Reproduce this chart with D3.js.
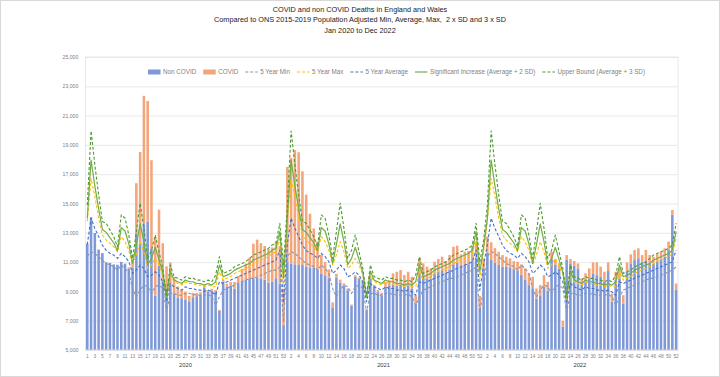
<!DOCTYPE html>
<html lang="en">
<head>
<meta charset="utf-8">
<title>COVID and non COVID Deaths in England and Wales</title>
<script src="https://d3js.org/d3.v7.min.js"></script>
<style>
  body { margin: 0; background: #fff; }
  text { font-family: "Liberation Sans", Arial, sans-serif; }
</style>
</head>
<body>
<svg width="720" height="377"></svg>
<script>
  // Categories
  const years = ["2020", "2021", "2022"];
  const weeksPerYear = [53, 52, 52];
  const yTicks = [5000, 7000, 9000, 11000, 13000, 15000, 17000, 19000, 21000, 23000, 25000];

  // Weekly registered deaths (bars)
  const nonCovid2020 = [12254,14058,12990,11856,11612,10986,10944,10841,10816,11019,10895,10542,10602,12912,12303,13593,13760,11918,8727,10763,9699,8887,9387,8862,8556,8534,8447,8324,8596,8674,8753,9240,8962,9041,8999,7661,9672,9308,9388,9196,9500,9700,9800,9850,9900,9950,9900,9800,9600,9650,9900,9500,6700];
  const covid2020 = [0,0,0,0,0,0,0,0,0,0,0,103,539,3475,6213,8758,8237,6035,3930,3810,2589,1822,1588,1114,783,606,532,366,295,217,193,152,138,139,101,78,139,215,246,452,548,834,1100,1450,2354,2585,2392,2300,2300,2350,2500,2600,2500];
  const nonCovid2021 = [11000,10900,10850,10800,10800,10700,10600,10600,10500,10200,10100,9900,7900,9950,9600,9400,9080,8000,9990,9850,9700,7710,9890,9330,8950,8700,9310,9370,9430,9390,9460,9310,9490,9200,8170,10250,10010,9890,9870,10230,10360,10470,10270,10480,10850,10970,10680,10810,10860,11120,11300,7900];
  const covid2021 = [6500,7200,7800,7700,6400,4900,3700,2700,1900,1300,900,600,350,250,200,150,120,100,110,100,100,90,110,120,150,200,340,400,800,950,1000,800,850,800,570,1000,900,800,700,800,850,900,800,1000,1200,1150,850,900,900,1000,1100,800];
  const nonCovid2022 = [10550,11650,11150,10950,10800,10680,10670,10650,10520,10430,10150,9820,9430,9200,8500,8730,9310,9060,11200,10810,10560,6600,11180,10910,10770,10560,9430,9660,9890,10230,10110,10000,9660,10390,8290,9770,9890,8170,10340,10910,11140,11260,11030,11070,10910,10910,11030,11140,11370,11830,14230,9090];
  const covid2022 = [700,1100,1200,1000,900,800,700,600,550,600,700,750,800,800,700,700,800,600,500,400,350,400,300,300,300,350,460,570,680,750,870,690,680,590,570,570,680,570,640,620,690,680,450,760,570,460,500,570,570,570,330,450];

  // ONS 2015-2019 population adjusted reference lines
  const min2020 = [11400,11700,11600,11350,11140,10900,10800,10700,10450,10800,10570,10230,9200,8630,9090,9430,9320,8860,9320,9430,9200,7600,8860,8860,8740,8740,8860,8860,8800,8750,8740,8740,8800,8630,8060,8630,9090,9200,9320,9430,9540,9660,9770,9890,9890,10000,10110,10230,10340,10450,10450,10680,6900];
  const min2021 = [11400,11700,11600,11350,11140,10900,10800,10700,10450,10800,10570,10230,9200,8630,9090,9430,9320,8860,9320,9430,9200,7600,8860,8860,8740,8740,8860,8860,8800,8750,8740,8740,8800,8630,8060,8630,9090,9200,9320,9430,9540,9660,9770,9890,9890,10000,10110,10230,10340,10450,10680,7600];
  const min2022 = [9200,11400,11700,11600,11350,11140,10900,10800,10700,10450,10800,10570,10230,9200,8630,9090,9430,9320,8860,9320,9430,9200,7600,8860,8860,8740,8740,8860,8860,8800,8750,8740,8740,8800,8630,8060,8630,9090,9200,9320,9430,9540,9660,9770,9890,9890,10000,10110,10230,10340,10450,10680];

  const max2020 = [13800,16700,15500,14000,12850,12500,12280,12050,11700,12740,12400,11800,10800,11500,12400,11700,10570,10800,11250,10800,10110,8520,10110,9660,9540,9430,9650,9540,9540,9430,9430,9320,9430,9320,9320,10340,9770,9890,10000,10230,10340,10450,10570,10680,10900,11030,11140,11250,11370,11590,11700,12620,9300];
  const max2021 = [13800,16700,15500,14000,12850,12500,12280,12050,11700,12740,12400,11800,10800,11500,12400,11700,10570,10800,11250,10800,10110,8520,10110,9660,9540,9430,9650,9540,9540,9430,9430,9320,9430,9320,9320,10340,9770,9890,10000,10230,10340,10450,10570,10680,10900,11030,11140,11250,11370,11590,12620,9890];
  const max2022 = [11700,13800,16700,15500,14000,12850,12500,12280,12050,11700,12740,12400,11800,10800,11500,12400,11700,10570,10800,11250,10800,10110,8520,10110,9660,9540,9430,9650,9540,9540,9430,9430,9320,9430,9320,9320,10340,9770,9890,10000,10230,10340,10450,10570,10680,10900,11030,11140,11250,11370,11590,12620];

  const avg2020 = [12200,14000,13300,12750,12150,11800,11600,11480,11250,11600,11370,11030,10230,10450,10800,10570,10000,10110,10340,10110,9660,8290,9540,9320,9200,9090,9320,9200,9200,9090,9090,9000,9090,8970,8740,9660,9540,9660,9770,9890,10000,10110,10230,10340,10450,10570,10680,10800,10900,11030,11140,11820,8200];
  const avg2021 = [12200,14000,13300,12750,12150,11800,11600,11480,11250,11600,11370,11030,10230,10450,10800,10570,10000,10110,10340,10110,9660,8290,9540,9320,9200,9090,9320,9200,9200,9090,9090,9000,9090,8970,8740,9660,9540,9660,9770,9890,10000,10110,10230,10340,10450,10570,10680,10800,10900,11030,11820,9090];
  const avg2022 = [10800,12200,14000,13300,12750,12150,11800,11600,11480,11250,11600,11370,11030,10230,10450,10800,10570,10000,10110,10340,10110,9660,8290,9540,9320,9200,9090,9320,9200,9200,9090,9090,9000,9090,8970,8740,9660,9540,9660,9770,9890,10000,10110,10230,10340,10450,10570,10680,10800,10900,11030,11820];

  const sd2_2020 = [14000,17970,16200,14650,13230,13030,12670,12320,11780,13350,13120,12240,10910,12200,13610,12390,10830,11240,12010,11170,10270,8590,10380,9770,9660,9540,9780,9660,9660,9540,9540,9430,9540,9430,9660,10800,10000,10110,10230,10450,10570,10680,10800,10900,11140,11250,11370,11480,11590,11820,11940,13080,9900];
  const sd2_2021 = [14000,17970,16200,14650,13230,13030,12670,12320,11780,13350,13120,12240,10910,12200,13610,12390,10830,11240,12010,11170,10270,8590,10380,9770,9660,9540,9780,9660,9660,9540,9540,9430,9540,9430,9660,10800,10000,10110,10230,10450,10570,10680,10800,10900,11140,11250,11370,11480,11590,11820,13080,10340];
  const sd2_2022 = [12000,14000,17970,16200,14650,13230,13030,12670,12320,11780,13350,13120,12240,10910,12200,13610,12390,10830,11240,12010,11170,10270,8590,10380,9770,9660,9540,9780,9660,9660,9540,9540,9430,9540,9430,9660,10800,10000,10110,10230,10450,10570,10680,10800,10900,11140,11250,11370,11480,11590,11820,13080];

  const sd3_2020 = [14900,19950,17650,15600,13770,13650,13200,12740,12050,14220,14000,12850,11250,13080,15020,13300,11250,11800,12850,11700,10570,8740,10800,10000,9890,9770,10000,9890,9890,9770,9770,9660,9770,9660,10110,11370,10230,10340,10450,10680,10800,10900,11030,11250,11480,11590,11700,11820,11940,12170,12300,13650,10800];
  const sd3_2021 = [14900,19950,17650,15600,13770,13650,13200,12740,12050,14220,14000,12850,11250,13080,15020,13300,11250,11800,12850,11700,10570,8740,10800,10000,9890,9770,10000,9890,9890,9770,9770,9660,9770,9660,10110,11370,10230,10340,10450,10680,10800,10900,11030,11250,11480,11590,11700,11820,11940,12170,13650,11000];
  const sd3_2022 = [12500,14900,19950,17650,15600,13770,13650,13200,12740,12050,14220,14000,12850,11250,13080,15020,13300,11250,11800,12850,11700,10570,8740,10800,10000,9890,9770,10000,9890,9890,9770,9770,9660,9770,9660,10110,11370,10230,10340,10450,10680,10800,10900,11030,11250,11480,11590,11700,11820,11940,12170,13650];

  // Join the three years
  const cats = years.flatMap((yr, k) => d3.range(1, weeksPerYear[k] + 1).map(w => ({ year: yr, week: w })));
  const nonCovid = [...nonCovid2020, ...nonCovid2021, ...nonCovid2022];
  const covid = [...covid2020, ...covid2021, ...covid2022];
  const table = cats.map((c, i) => ({ i, year: c.year, week: c.week, nonCovid: nonCovid[i], covid: covid[i] }));

  const lineSeries = [
    { name: "5 Year Min", values: [...min2020, ...min2021, ...min2022], color: "#8497b0", dash: "3,2", width: 1.1 },
    { name: "5 Year Max", values: [...max2020, ...max2021, ...max2022], color: "#ffc000", dash: "3,2", width: 1.1 },
    { name: "5 Year Average", values: [...avg2020, ...avg2021, ...avg2022], color: "#4472c4", dash: "3,2", width: 1.1 },
    { name: "Significant Increase (Average + 2 SD)", values: [...sd2_2020, ...sd2_2021, ...sd2_2022], color: "#70ad47", dash: null, width: 1.2 },
    { name: "Upper Bound (Average + 3 SD)", values: [...sd3_2020, ...sd3_2021, ...sd3_2022], color: "#4e9a2c", dash: "3,2", width: 1.1 }
  ];

  const svg = d3.select("svg");
  const width = +svg.attr("width");
  const height = +svg.attr("height");
  const margin = { left: 85.4, right: 42, top: 57, bottom: 27 };
  const plotW = width - margin.left - margin.right;

  // Chart frame
  svg.append("rect").attr("x", 0.5).attr("y", 0.5).attr("width", width - 1).attr("height", height - 1)
    .attr("fill", "#fff").attr("stroke", "#d9d9d9");

  // Titles
  const titles = [
    "COVID and non COVID Deaths in England and Wales",
    "Compared to ONS 2015-2019 Population Adjusted Min, Average, Max,  2 x SD and 3 x SD",
    "Jan 2020 to Dec 2022"
  ];
  svg.append("g").selectAll("text").data(titles).join("text")
    .attr("x", 360).attr("y", (d, i) => 11.5 + i * 10.8)
    .attr("text-anchor", "middle").attr("font-size", 7.3).attr("fill", "#1a1a1a")
    .style("white-space", "pre")
    .text(d => d);

  // Scales
  const x = d3.scaleBand().domain(d3.range(cats.length))
    .range([margin.left, margin.left + plotW]).paddingInner(0.32).paddingOuter(0.16);
  const y = d3.scaleLinear().domain([5000, 25000]).range([height - margin.bottom, margin.top]).clamp(true);
  const cx = i => x(i) + x.bandwidth() / 2;

  // Gridlines + y axis
  const yAxis = svg.append("g").attr("transform", `translate(${margin.left},0)`)
    .call(d3.axisLeft(y).tickValues(yTicks).tickFormat(d3.format(",")).tickSize(-plotW).tickPadding(7));
  yAxis.select(".domain").remove();
  yAxis.selectAll("line").attr("stroke", "#e3e3e3").attr("stroke-width", 0.8);
  yAxis.selectAll("text").attr("font-size", 5.2).attr("fill", "#7f7f7f").attr("font-family", "Liberation Sans, Arial, sans-serif");

  // Plot border
  svg.append("rect").attr("x", margin.left).attr("y", margin.top)
    .attr("width", plotW).attr("height", y(5000) - margin.top)
    .attr("fill", "none").attr("stroke", "#e3e3e3").attr("stroke-width", 0.8);

  // Stacked bars
  const stacked = d3.stack().keys(["nonCovid", "covid"])(table);
  const barColors = { nonCovid: "#7f99d8", covid: "#f3a57c" };
  svg.append("g").selectAll("g").data(stacked).join("g")
    .attr("fill", d => barColors[d.key])
    .selectAll("rect").data(d => d).join("rect")
    .attr("x", (d, i) => x(i))
    .attr("width", x.bandwidth())
    .attr("y", d => y(d[1]))
    .attr("height", d => Math.max(0, y(d[0]) - y(d[1])));

  // Reference lines
  const line = d3.line().x((d, i) => cx(i)).y(d => y(d));
  svg.append("g").selectAll("path").data(lineSeries).join("path")
    .attr("d", d => line(d.values))
    .attr("fill", "none")
    .attr("stroke", d => d.color)
    .attr("stroke-width", d => d.width)
    .attr("stroke-dasharray", d => d.dash)
    .attr("stroke-linejoin", "round");

  // X axis: weeks, every other label
  const baseY = y(5000);
  svg.append("line").attr("x1", margin.left).attr("x2", margin.left + plotW)
    .attr("y1", baseY).attr("y2", baseY).attr("stroke", "#d9d9d9");
  svg.append("g").selectAll("text").data(table.filter(d => d.i % 2 === 0)).join("text")
    .attr("x", d => cx(d.i)).attr("y", baseY + 7.5)
    .attr("text-anchor", "middle").attr("font-size", 4.8).attr("fill", "#7f7f7f")
    .text(d => d.week);

  // Year group labels
  const groups = years.map(yr => {
    const idx = table.filter(d => d.year === yr).map(d => d.i);
    return { year: yr, first: d3.min(idx), last: d3.max(idx) };
  });
  svg.append("g").selectAll("text").data(groups).join("text")
    .attr("x", d => (x(d.first) + x(d.last) + x.bandwidth()) / 2)
    .attr("y", baseY + 16.5)
    .attr("text-anchor", "middle").attr("font-size", 5.8).attr("fill", "#404040")
    .text(d => d.year);

  // Legend
  const legendItems = [
    { name: "Non COVID", type: "rect", color: barColors.nonCovid },
    { name: "COVID", type: "rect", color: barColors.covid },
    ...lineSeries.map(s => ({ name: s.name, type: "line", color: s.color, dash: s.dash, width: s.width }))
  ];
  const legend = svg.append("g");
  const items = legend.selectAll("g").data(legendItems).join("g");
  items.append("text").attr("x", 15).attr("y", 2.3).attr("font-size", 6.3).attr("fill", "#7f7f7f").text(d => d.name);
  const widths = [];
  items.each(function () { widths.push(15 + d3.select(this).select("text").node().getComputedTextLength()); });
  const legendLeft = 148, legendRight = 645;
  const gap = Math.max(4, (legendRight - legendLeft - d3.sum(widths)) / (widths.length - 1));
  let pos = legendLeft;
  items.attr("transform", (d, i) => { const t = `translate(${pos},72)`; pos += widths[i] + gap; return t; });
  items.filter(d => d.type === "rect").append("rect")
    .attr("x", 0).attr("y", -2.5).attr("width", 12.5).attr("height", 5).attr("fill", d => d.color);
  items.filter(d => d.type === "line").append("line")
    .attr("x1", 0).attr("x2", 12.5).attr("y1", 0).attr("y2", 0)
    .attr("stroke", d => d.color).attr("stroke-width", d => d.width)
    .attr("stroke-dasharray", d => d.dash);
</script>
</body>
</html>
